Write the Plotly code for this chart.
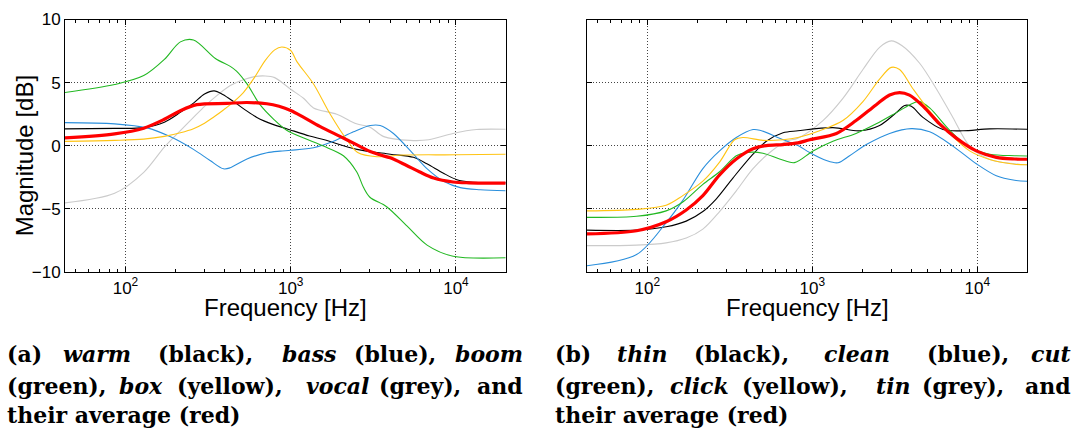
import plotly.graph_objects as go
import math

# ---------------- data ----------------
# (a) left panel
warm_f = [43, 86, 129, 172, 215, 258, 301, 344, 388, 451, 530, 624, 780, 945, 1300, 1600, 2516, 4000, 5530, 6670, 8400, 10140, 12200, 20000]
warm_db = [1.34, 1.38, 1.44, 1.87, 2.65, 3.38, 4.1, 4.35, 4.07, 3.51, 2.85, 2.25, 1.7, 1.36, 0.78, 0.48, -0.28, -0.66, -0.91, -1.42, -2.17, -2.68, -2.86, -2.93]

bass_f = [43, 86, 135, 186, 258, 325, 392, 430, 544, 718, 863, 1000, 1374, 1815, 2398, 3027, 3478, 4185, 5530, 6673, 8414, 10620, 14020, 20000]
bass_db = [1.84, 1.74, 1.42, 0.73, -0.28, -1.16, -1.82, -1.74, -1.04, -0.55, -0.42, -0.35, -0.15, 0.36, 1.11, 1.61, 1.61, 0.98, -0.66, -1.8, -2.8, -3.31, -3.48, -3.56]

boom_f = [43, 86, 129, 172, 215, 258, 350, 431, 470, 544, 652, 787, 945, 1306, 1577, 2084, 2506, 2760, 3015, 3806, 5048, 6687, 9613, 20000]
boom_db = [4.22, 4.85, 5.56, 6.84, 8.23, 8.38, 6.92, 6.29, 5.91, 4.9, 3.26, 2.12, 1.24, 0.43, -0.02, -0.78, -2.05, -3.3, -4.07, -4.82, -6.34, -7.86, -8.74, -8.86]

box_f = [43, 86, 129, 172, 215, 258, 301, 344, 388, 431, 517, 603, 700, 800, 884, 1000, 1090, 1374, 1735, 2185, 2544, 3325, 4790, 10000, 20000]
box_db = [0.35, 0.43, 0.53, 0.75, 1.04, 1.36, 1.79, 2.3, 2.8, 3.26, 4.22, 5.4, 6.75, 7.6, 7.82, 7.55, 6.67, 4.9, 2.5, 0.48, -0.53, -0.86, -0.73, -0.71, -0.66]

vocal_f = [43, 86, 129, 172, 215, 258, 301, 344, 431, 517, 603, 700, 800, 995, 1200, 1374, 1900, 2500, 3000, 3660, 5260, 6850, 9600, 13330, 20000]
vocal_db = [-4.52, -3.76, -2.1, -0.1, 1.2, 2.25, 3.13, 3.8, 4.77, 5.23, 5.48, 5.53, 5.4, 4.5, 3.75, 3.0, 2.5, 1.74, 1.5, 0.73, 0.43, 0.48, 0.98, 1.29, 1.31]

avgA_f = [43, 86, 129, 172, 215, 270, 411, 543, 718, 850, 1000, 1200, 1500, 2000, 2500, 3027, 3500, 4000, 5000, 6000, 7330, 9600, 12000, 20000]
avgA_db = [0.63, 0.95, 1.4, 2.1, 2.78, 3.26, 3.36, 3.43, 3.33, 3.13, 2.8, 2.25, 1.54, 0.73, 0.1, -0.45, -0.73, -0.95, -1.54, -2.05, -2.55, -2.86, -2.93, -2.95]

# (b) right panel
thin_f = [43, 86, 130, 172, 217, 262, 330, 437, 526, 664, 818, 1333, 1934, 2556, 3228, 3626, 3980, 4680, 6190, 8180, 11890, 20000]
thin_db = [-6.67, -6.67, -6.41, -5.96, -5.2, -4.19, -2.55, -0.66, 0.36, 1.04, 1.19, 1.44, 1.19, 1.61, 2.63, 3.2, 3.13, 2.25, 1.29, 1.19, 1.34, 1.31]

clean_f = [43, 86, 130, 164, 217, 274, 346, 437, 480, 633, 818, 964, 1216, 1430, 1682, 2124, 2940, 3980, 5140, 7110, 9860, 13040, 16830, 20000]
clean_db = [-9.49, -8.61, -6.08, -4.32, -1.8, -0.4, 0.66, 1.29, 1.24, 0.61, 0.02, -0.53, -1.16, -1.34, -0.78, 0.1, 0.98, 1.36, 1.11, -0.02, -1.42, -2.37, -2.73, -2.8]

cut_f = [43, 86, 130, 164, 217, 274, 346, 400, 502, 633, 778, 1010, 1333, 1840, 2440, 3228, 4070, 4470, 5140, 6790, 8980, 11890, 16830, 20000]
cut_db = [-5.66, -5.58, -5.15, -4.45, -3.05, -2.05, -0.78, -0.53, -0.58, -1.04, -1.33, -0.4, 0.36, 0.98, 1.74, 2.63, 3.38, 3.5, 3.0, 1.24, -0.15, -0.66, -0.78, -0.8]

click_f = [43, 86, 130, 164, 217, 274, 338, 379, 502, 664, 818, 1159, 1532, 2026, 2556, 3010, 3380, 4070, 5140, 6790, 8980, 11890, 16830, 20000]
click_db = [-5.15, -5.03, -4.7, -3.94, -2.8, -1.29, 0.48, 0.66, 0.43, 0.48, 0.66, 1.29, 2.0, 3.5, 5.28, 6.21, 6.04, 4.52, 2.75, 0.98, -0.4, -1.08, -1.46, -1.5]

tin_f = [43, 86, 130, 172, 217, 274, 346, 437, 552, 695, 818, 1159, 1532, 2026, 2556, 3010, 3500, 4470, 5640, 7110, 8980, 11890, 16830, 20000]
tin_db = [-7.9, -7.86, -7.68, -7.3, -6.59, -5.2, -3.56, -1.8, -0.53, 0.36, 0.61, 2.0, 3.76, 6.04, 7.8, 8.31, 7.93, 6.54, 4.52, 2.25, -0.02, -1.08, -1.42, -1.5]

avgB_f = [43, 86, 130, 172, 217, 274, 346, 437, 526, 664, 818, 964, 1400, 1840, 2440, 2940, 3380, 3880, 4700, 5900, 7450, 9860, 13040, 16830, 20000]
avgB_db = [-6.97, -6.72, -6.01, -5.08, -3.94, -2.3, -1.04, -0.23, 0.02, 0.1, 0.23, 0.48, 0.98, 2.0, 3.26, 4.02, 4.22, 4.02, 3.13, 1.74, 0.61, -0.4, -0.91, -1.04, -1.06]

x_tick_vals = [100, 1000, 10000]
x_tick_text = ["10<sup>2</sup>", "10<sup>3</sup>", "10<sup>4</sup>"]
y_tick_vals = [-10, -5, 0, 5, 10]
y_tick_text = ["\u221210", "\u22125", "0", "5", "10"]

# ---------------- styling ----------------
W, H = 1079, 441
BLACK = "#000000"
BLUE = "#2b8fdc"
GREEN = "#22b822"
YELLOW = "#ffc414"
GREY = "#cbcbcb"
RED = "#ff0000"
SANS = "Liberation Sans, Arial, sans-serif"
SERIF = "DejaVu Serif, serif"

fig = go.Figure()

def add(f, v, color, width, xa, ya):
    fig.add_trace(go.Scatter(x=f, y=v, mode="lines",
                             line=dict(color=color, width=width, shape="spline", smoothing=0.9),
                             xaxis=xa, yaxis=ya, showlegend=False, hoverinfo="skip"))

panelA = [(vocal_f, vocal_db, GREY), (warm_f, warm_db, BLACK), (bass_f, bass_db, BLUE),
          (boom_f, boom_db, GREEN), (box_f, box_db, YELLOW)]
panelB = [(tin_f, tin_db, GREY), (thin_f, thin_db, BLACK), (clean_f, clean_db, BLUE),
          (cut_f, cut_db, GREEN), (click_f, click_db, YELLOW)]
for f, v, c in panelA:
    add(f, v, c, 1.1, "x", "y")
add(avgA_f, avgA_db, RED, 3.2, "x", "y")
for f, v, c in panelB:
    add(f, v, c, 1.1, "x2", "y2")
add(avgB_f, avgB_db, RED, 3.2, "x2", "y2")

def px2x(p):
    return p / W

def px2y(p):
    return 1 - p / H

minor_vals = [m * 10 ** e for e in range(1, 5) for m in range(2, 10)]
minor_vals = [m for m in minor_vals if 43 <= m <= 20000]

GRID_DASH = "1px,2px"
xrange = [math.log10(43.07), math.log10(20000)]
common_x = dict(type="log", range=xrange, tickvals=x_tick_vals, ticktext=x_tick_text,
                ticks="inside", ticklen=5, tickcolor=BLACK, showline=True, linecolor=BLACK,
                linewidth=1, mirror="ticks", showgrid=True, gridcolor="#444444",
                griddash=GRID_DASH, gridwidth=1, zeroline=False,
                tickfont=dict(family=SANS, size=17, color=BLACK),
                minor=dict(tickvals=minor_vals, ticks="inside", ticklen=3, tickcolor=BLACK, showgrid=False))
common_y = dict(range=[-10, 10], tickvals=y_tick_vals, ticktext=y_tick_text, ticks="inside",
                ticklen=5, tickcolor=BLACK, showline=True, linecolor=BLACK, linewidth=1,
                mirror="ticks", showgrid=True, gridcolor="#444444", griddash=GRID_DASH, gridwidth=1,
                zeroline=False, tickfont=dict(family=SANS, size=17, color=BLACK))

fig.update_layout(
    width=W, height=H, margin=dict(l=0, r=0, t=0, b=0),
    paper_bgcolor="white", plot_bgcolor="white",
    xaxis=dict(domain=[px2x(65), px2x(505.7)], anchor="y", **common_x),
    yaxis=dict(domain=[px2y(275), px2y(11)], anchor="x", **common_y),
    xaxis2=dict(domain=[px2x(587), px2x(1027)], anchor="y2", **common_x),
    yaxis2=dict(domain=[px2y(275), px2y(11)], anchor="x2", showticklabels=False, **common_y),
)

ann = []
ann.append(dict(text="Magnitude [dB]", x=px2x(24), y=px2y(154), xref="paper", yref="paper",
                textangle=-90, showarrow=False, xanchor="center", yanchor="middle",
                font=dict(family=SANS, size=24, color=BLACK)))
for cx in (285.4, 807):
    ann.append(dict(text="Frequency [Hz]", x=px2x(cx), y=px2y(312), xref="paper", yref="paper",
                    showarrow=False, xanchor="center", yanchor="middle",
                    font=dict(family=SANS, size=24, color=BLACK)))

# caption layout: (text, left px or None, right px or None), line centre y px
cap_font = dict(family=SERIF, size=22, color=BLACK)
captions = [
    (361, [("(a)", 5, None), ("<i>warm</i>", 61, None), ("(black),", 156, None),
           ("<i>bass</i>", 280, None), ("(blue),", 352, None), ("<i>boom</i>", None, 525)]),
    (393.5, [("(green),", 5, None), ("<i>box</i>", 117, None), ("(yellow),", 175, None),
             ("<i>vocal</i>", 304, None), ("(grey),", 377, None), ("and", None, 525)]),
    (424, [("their average (red)", 5, None)]),
    (361, [("(b)", 553, None), ("<i>thin</i>", 615, None), ("(black),", 692, None),
           ("<i>clean</i>", 822, None), ("(blue),", 925, None), ("<i>cut</i>", None, 1073)]),
    (393.5, [("(green),", 553, None), ("<i>click</i>", 668, None), ("(yellow),", 740, None),
             ("<i>tin</i>", 874, None), ("(grey),", 920, None), ("and", None, 1073)]),
    (424, [("their average (red)", 553, None)]),
]
for yc, words in captions:
    for t, lft, rgt in words:
        if lft is not None:
            xx, xa = lft, "left"
        else:
            xx, xa = rgt, "right"
        ann.append(dict(text="<b>" + t + "</b>", x=px2x(xx), y=px2y(yc), xref="paper", yref="paper",
                        showarrow=False, xanchor=xa, yanchor="middle", font=cap_font))

fig.update_layout(annotations=ann)
fig.write_html("out.html", config={"displayModeBar": False},
               post_script="document.body.style.margin='0';document.body.style.overflow='hidden';")
